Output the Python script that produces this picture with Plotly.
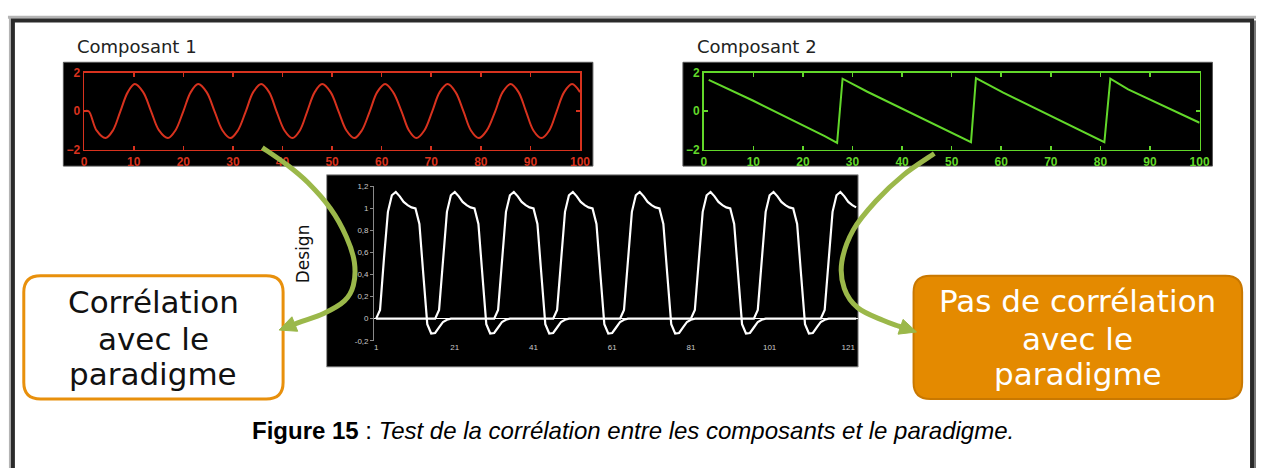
import plotly.graph_objects as go

# reference frame in pixels (mapped onto the whole viewport as paper fractions)
W, H = 1266, 468

# ---------------- data ----------------
comp1_x = [0, 0.9, 2.5, 4.3, 5.8, 7.3, 8.8, 10.2, 11.9,
           13.5, 15.1, 16.9, 18.4, 20.0, 21.5, 23.0, 24.7,
           26.3, 27.9, 29.5, 31.0, 32.6, 34.1, 35.7, 37.3,
           38.8, 40.4, 42.0, 43.5, 45.0, 46.5, 48.0, 49.7,
           51.3, 52.9, 54.5, 56.0, 57.6, 59.1, 60.7, 62.3,
           64.0, 65.5, 67.0, 68.6, 70.2, 71.7, 73.3, 74.9,
           76.5, 78.0, 79.6, 81.2, 82.9, 84.4, 86.0, 87.6,
           89.1, 90.6, 92.2, 93.8, 95.3, 96.8, 98.4, 100]
comp1_y = [0, 0, -1.0, -1.4, -1.0, 0, 1.0, 1.42, 1.0,
           0, -1.0, -1.4, -1.0, 0, 1.0, 1.42, 1.0,
           0, -1.0, -1.4, -1.0, 0, 1.0, 1.42, 1.0,
           0, -1.0, -1.4, -1.0, 0, 1.0, 1.42, 1.0,
           0, -1.0, -1.4, -1.0, 0, 1.0, 1.42, 1.0,
           0, -1.0, -1.4, -1.0, 0, 1.0, 1.42, 1.0,
           0, -1.0, -1.4, -1.0, 0, 1.0, 1.42, 1.0,
           0, -1.0, -1.4, -1.0, 0, 1.0, 1.42, 1.0]

comp2_x = [1, 10, 24.4, 26.9, 28, 33, 53.9, 54.9, 60.4, 80.8, 82, 85.6, 100]
comp2_y = [1.64, 0.55, -1.3, -1.65, 1.70, 1.02, -1.61, 1.73, 0.97, -1.61, 1.70, 1.14, -0.6]

comp_xticks = [0, 10, 20, 30, 40, 50, 60, 70, 80, 90, 100]
comp_yticks = [-2, 0, 2]

design_x = list(range(1, 124))
design_a = [
    0, 0.08, 0.55, 0.97, 1.12, 1.15, 1.11, 1.06, 1.03, 1.01, 1.0, 0.86, 0.4, -0.05, -0.135, -0.13, -0.08, -0.03, -0.01, 0,
    0, 0, 0, 0, 0, 0, 0, 0, 0, 0,
    0, 0.08, 0.55, 0.97, 1.12, 1.15, 1.11, 1.06, 1.03, 1.01, 1.0, 0.86, 0.4, -0.05, -0.135, -0.13, -0.08, -0.03, -0.01, 0,
    0, 0, 0, 0, 0, 0, 0, 0, 0, 0, 0, 0,
    0, 0.08, 0.55, 0.97, 1.12, 1.15, 1.11, 1.06, 1.03, 1.01, 1.0, 0.86, 0.4, -0.05, -0.135, -0.13, -0.08, -0.03, -0.01, 0,
    0, 0, 0, 0, 0, 0, 0, 0, 0, 0, 0, 0, 0, 0,
    0, 0.08, 0.55, 0.97, 1.12, 1.15, 1.11, 1.06, 1.03, 1.01, 1.0, 0.86, 0.4, -0.05, -0.135, -0.13, -0.08, -0.03, -0.01, 0,
    0, 0, 0, 0, 0, 0, 0,
]
design_b = [
    0, 0, 0, 0, 0, 0, 0, 0, 0, 0, 0, 0, 0, 0, 0,
    0, 0.08, 0.55, 0.97, 1.12, 1.15, 1.11, 1.06, 1.03, 1.01, 1.0, 0.86, 0.4, -0.05, -0.135, -0.13, -0.08, -0.03, -0.01, 0,
    0, 0, 0, 0, 0, 0, 0, 0, 0, 0,
    0, 0.08, 0.55, 0.97, 1.12, 1.15, 1.11, 1.06, 1.03, 1.01, 1.0, 0.86, 0.4, -0.05, -0.135, -0.13, -0.08, -0.03, -0.01, 0,
    0, 0, 0, 0, 0, 0, 0, 0, 0, 0, 0, 0, 0, 0, 0,
    0, 0.08, 0.55, 0.97, 1.12, 1.15, 1.11, 1.06, 1.03, 1.01, 1.0, 0.86, 0.4, -0.05, -0.135, -0.13, -0.08, -0.03, -0.01, 0,
    0, 0, 0, 0, 0, 0, 0, 0, 0, 0, 0, 0, 0,
    0, 0.08, 0.55, 0.97, 1.12, 1.15, 1.11, 1.06, 1.03, 1.01,
]
design_xticks = [1, 21, 41, 61, 81, 101, 121]
design_xtext = ["1", "21", "41", "61", "81", "101", "121"]
design_yticks = [-0.2, 0, 0.2, 0.4, 0.6, 0.8, 1.0, 1.2]
design_ytext = ["-0,2", "0", "0,2", "0,4", "0,6", "0,8", "1", "1,2"]

title_1 = "Composant 1"
title_2 = "Composant 2"
design_title = "Design"
left_box_lines = ["Corrélation", "avec le", "paradigme"]
right_box_lines = ["Pas de corrélation", "avec le", "paradigme"]
caption = "<b>Figure 15</b> : <i>Test de la corrélation entre les composants et le paradigme.</i>"

# ---------------- styles ----------------
RED = "#D8321E"
GREEN = "#62D82A"
OLIVE = "#9BB84A"
ORANGE = "#E48A00"
ORANGE_DARK = "#C97800"


def X(p):
    return p / W


def Y(p):
    return 1 - p / H


def P(x, y):
    return f"{X(x):.5f},{Y(y):.5f}"


def rrect(x0, y0, x1, y1, r):
    return (f"M {P(x0 + r, y0)} L {P(x1 - r, y0)} Q {P(x1, y0)} {P(x1, y0 + r)} "
            f"L {P(x1, y1 - r)} Q {P(x1, y1)} {P(x1 - r, y1)} L {P(x0 + r, y1)} "
            f"Q {P(x0, y1)} {P(x0, y1 - r)} L {P(x0, y0 + r)} Q {P(x0, y0)} {P(x0 + r, y0)} Z")


def cr_path(pts):
    s = f"M {P(*pts[0])}"
    n = len(pts)
    for i in range(n - 1):
        p0 = pts[i - 1] if i > 0 else pts[i]
        p1 = pts[i]
        p2 = pts[i + 1]
        p3 = pts[i + 2] if i + 2 < n else p2
        c1 = (p1[0] + (p2[0] - p0[0]) / 6, p1[1] + (p2[1] - p0[1]) / 6)
        c2 = (p2[0] - (p3[0] - p1[0]) / 6, p2[1] - (p3[1] - p1[1]) / 6)
        s += f" C {P(*c1)} {P(*c2)} {P(*p2)}"
    return s


def arrow_shapes(pts, tip, L=17, Wd=8):
    last = pts[-1]
    dx, dy = tip[0] - last[0], tip[1] - last[1]
    d = (dx * dx + dy * dy) ** 0.5
    ux, uy = dx / d, dy / d
    bx, by = tip[0] - ux * L, tip[1] - uy * L
    nx, ny = -uy, ux
    line = dict(type="path", xref="paper", yref="paper",
                path=cr_path(pts + [(bx + ux * 3, by + uy * 3)]),
                line=dict(color=OLIVE, width=5), layer="above")
    head = dict(type="path", xref="paper", yref="paper",
                path=f"M {P(*tip)} L {P(bx + nx * Wd, by + ny * Wd)} L {P(bx - nx * Wd, by - ny * Wd)} Z",
                fillcolor=OLIVE, line=dict(color=OLIVE, width=1), layer="above")
    return [line, head]


fig = go.Figure()

fig.add_trace(go.Scatter(x=comp1_x, y=comp1_y, mode="lines", xaxis="x", yaxis="y",
                         line=dict(color=RED, width=2, shape="spline", smoothing=1.0),
                         showlegend=False, hoverinfo="skip"))
fig.add_trace(go.Scatter(x=comp2_x, y=comp2_y, mode="lines", xaxis="x2", yaxis="y2",
                         line=dict(color=GREEN, width=2), showlegend=False, hoverinfo="skip"))
fig.add_trace(go.Scatter(x=design_x, y=design_a, mode="lines", xaxis="x3", yaxis="y3",
                         line=dict(color="white", width=2.2), showlegend=False, hoverinfo="skip"))
fig.add_trace(go.Scatter(x=design_x, y=design_b, mode="lines", xaxis="x3", yaxis="y3",
                         line=dict(color="white", width=2.2), showlegend=False, hoverinfo="skip"))


def comp_axes(color):
    tf = dict(family="Liberation Sans", size=12, color=color, weight="bold")
    return dict(showline=True, linecolor=color, linewidth=1.6, mirror="ticks",
                ticks="inside", ticklen=4, tickwidth=1.6, tickcolor=color,
                showgrid=False, zeroline=False, tickfont=tf, fixedrange=True)


xa = comp_axes(RED)
ya = comp_axes(RED)
xb = comp_axes(GREEN)
yb = comp_axes(GREEN)

layout = dict(
    width=W, height=H, autosize=True,
    margin=dict(l=0, r=0, t=0, b=0, pad=0),
    paper_bgcolor="white", plot_bgcolor="rgba(0,0,0,0)",
    xaxis=dict(xa, domain=[X(82), X(583)], range=[0, 100], tickvals=comp_xticks, anchor="y"),
    yaxis=dict(ya, domain=[Y(147), Y(68)], range=[-2, 2], tickvals=comp_yticks, anchor="x"),
    xaxis2=dict(xb, domain=[X(708), X(1209)], range=[0, 100], tickvals=comp_xticks, anchor="y2"),
    yaxis2=dict(yb, domain=[Y(147), Y(68)], range=[-2, 2], tickvals=comp_yticks, anchor="x2"),
    xaxis3=dict(domain=[X(375), X(864)], range=[0.5, 123.5], anchor="y3",
                tickvals=design_xticks, ticktext=design_xtext, ticks="",
                showline=False, showgrid=False, zeroline=False, fixedrange=True,
                tickfont=dict(family="Liberation Sans", size=8, color="#c8c8c8")),
    yaxis3=dict(domain=[Y(344), Y(185)], range=[-0.2, 1.2], anchor="x3",
                tickvals=design_yticks, ticktext=design_ytext, ticks="outside",
                ticklen=3, tickcolor="#8a8a8a", showline=True, linecolor="#8a8a8a",
                linewidth=1, showgrid=False, zeroline=True, zerolinecolor="white",
                zerolinewidth=1.5, fixedrange=True,
                tickfont=dict(family="Liberation Sans", size=8, color="#c8c8c8")),
    showlegend=False,
)
fig.update_layout(**layout)

shapes = []
# outer frame
shapes.append(dict(type="line", xref="paper", yref="paper", x0=X(5), x1=X(1266), y0=Y(10.5), y1=Y(10.5),
                   line=dict(color="#b4b4b4", width=3), layer="below"))
shapes.append(dict(type="line", xref="paper", yref="paper", x0=X(7), x1=X(7), y0=Y(10), y1=Y(520),
                   line=dict(color="#b4b4b4", width=2), layer="below"))
shapes.append(dict(type="rect", xref="paper", yref="paper", x0=X(10), x1=X(1262), y0=Y(14), y1=Y(530),
                   line=dict(color="#2a2a2a", width=4), layer="below"))
shapes.append(dict(type="line", xref="paper", yref="paper", x0=X(1265), x1=X(1265), y0=Y(14), y1=Y(530),
                   line=dict(color="#777", width=2), layer="below"))
# black panels
for (x0, y0, x1, y1, lc) in [(61, 57, 596, 164, "#555"), (687, 57, 1222, 164, "#555"),
                             (327, 173, 864, 371, "#9a9a9a")]:
    shapes.append(dict(type="rect", xref="paper", yref="paper", x0=X(x0), x1=X(x1), y0=Y(y0), y1=Y(y1),
                       fillcolor="black", line=dict(color=lc, width=1), layer="below"))
# boxes
shapes.append(dict(type="path", xref="paper", yref="paper", path=rrect(21, 277, 283, 404, 17),
                   fillcolor="white", line=dict(color="#E8900C", width=3), layer="above"))
shapes.append(dict(type="path", xref="paper", yref="paper", path=rrect(920, 277, 1252, 404, 17),
                   fillcolor=ORANGE, line=dict(color=ORANGE_DARK, width=2), layer="above"))
# arrows
left_pts = [(262, 145), (286, 162), (308, 181), (331, 208), (347, 237), (355, 263),
            (354, 287), (345, 303), (324, 316), (302, 324)]
right_pts = [(941, 151), (910, 173), (882, 200), (859, 230), (847.5, 263), (850, 290),
             (863.6, 310), (889, 323), (905, 329)]
shapes += arrow_shapes(left_pts, (279, 333))
shapes += arrow_shapes(right_pts, (923, 335))
fig.update_layout(shapes=shapes)

ann = []
ann.append(dict(text=title_1, x=X(73), y=Y(41), xref="paper", yref="paper", xanchor="left",
                yanchor="middle", showarrow=False,
                font=dict(family="DejaVu Sans", size=18, color="#222")))
ann.append(dict(text=title_2, x=X(699), y=Y(41), xref="paper", yref="paper", xanchor="left",
                yanchor="middle", showarrow=False,
                font=dict(family="DejaVu Sans", size=18, color="#222")))
ann.append(dict(text=design_title, x=X(304), y=Y(254), xref="paper", yref="paper", xanchor="center",
                yanchor="middle", showarrow=False, textangle=-90,
                font=dict(family="DejaVu Sans", size=17, color="#111")))
for txt, cy in zip(left_box_lines, [304, 342, 378]):
    ann.append(dict(text=txt, x=X(152), y=Y(cy), xref="paper", yref="paper", xanchor="center",
                    yanchor="middle", showarrow=False,
                    font=dict(family="DejaVu Sans", size=31, color="#111")))
for txt, cy in zip(right_box_lines, [303, 342, 378]):
    ann.append(dict(text=txt, x=X(1086), y=Y(cy), xref="paper", yref="paper", xanchor="center",
                    yanchor="middle", showarrow=False,
                    font=dict(family="DejaVu Sans", size=31, color="white")))
ann.append(dict(text=caption, x=X(636.5), y=Y(437), xref="paper", yref="paper", xanchor="center",
                yanchor="middle", showarrow=False,
                font=dict(family="Liberation Sans", size=24, color="black")))
fig.update_layout(annotations=ann)

post = (
    "var gd=document.getElementById('{plot_id}');"
    "var de=document.documentElement, b=document.body;"
    "de.style.margin='0';de.style.padding='0';de.style.overflow='hidden';"
    "b.style.margin='0';b.style.padding='0';b.style.overflow='hidden';"
    "var w=window.innerWidth, h=window.innerHeight;"
    "gd.style.width=w+'px';gd.style.height=h+'px';"
    "return Plotly.relayout(gd,{width:w,height:h});"
)

fig.write_html("out.html", include_plotlyjs=True, full_html=True,
               config={"displayModeBar": False, "staticPlot": True},
               post_script=post)
